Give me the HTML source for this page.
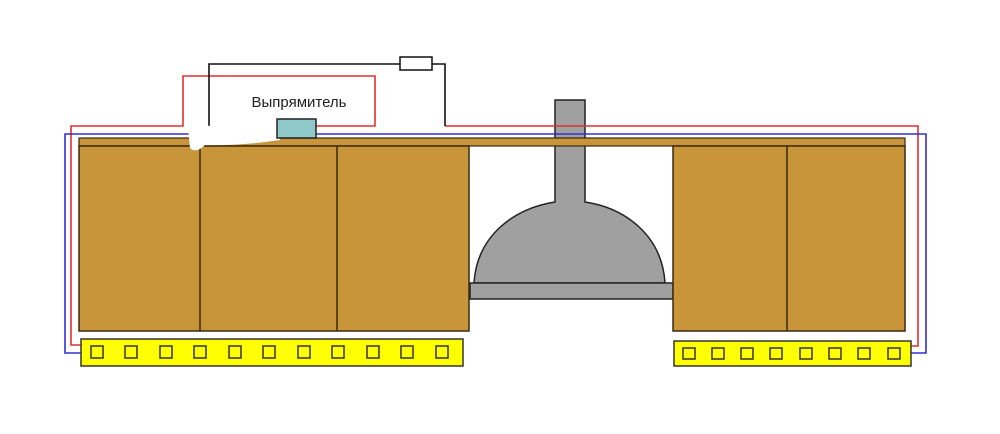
<!DOCTYPE html>
<html><head><meta charset="utf-8"><style>body{margin:0;background:#fff}svg{display:block}</style></head><body>
<svg width="1000" height="434" viewBox="0 0 1000 434" xmlns="http://www.w3.org/2000/svg">
<rect width="1000" height="434" fill="#fff"/>
<!-- hood -->
<path d="M555,100 H585 V202 C625,208 662,235 665,283 H474 C477,235 515,208 555,202 Z" fill="#a0a0a0" stroke="#222" stroke-width="1.5"/>
<rect x="470" y="283" width="203" height="16" fill="#a0a0a0" stroke="#222" stroke-width="1.5"/>
<!-- wires -->
<g fill="none" stroke-width="1.6">
<polyline points="81,345 71,345 71,126 183,126 183,76 375,76 375,126 316,126" stroke="#e03030"/>
<polyline points="445,126 918,126 918,346 910,346" stroke="#e03030"/>
<polyline points="81,353 65,353 65,134 190,134" stroke="#3030d0"/>
<polyline points="316,134 926,134 926,353 910,353" stroke="#3030d0"/>
<polyline points="192,134 209,134 209,64 400,64" stroke="#111"/>
<polyline points="432,64 445,64 445,126" stroke="#111"/>
</g>
<rect x="400" y="57" width="32" height="13" fill="#fff" stroke="#111" stroke-width="1.5"/>
<!-- counter -->
<rect x="79" y="138" width="826" height="8" fill="#c9953a" stroke="#3a2a10" stroke-width="1.2"/>
<rect x="79" y="146" width="390" height="185" fill="#c9953a" stroke="#3a2a10" stroke-width="1.5"/>
<line x1="200" y1="146" x2="200" y2="331" stroke="#3a2a10" stroke-width="1.5"/>
<line x1="337" y1="146" x2="337" y2="331" stroke="#3a2a10" stroke-width="1.5"/>
<rect x="673" y="146" width="232" height="185" fill="#c9953a" stroke="#3a2a10" stroke-width="1.5"/>
<line x1="787" y1="146" x2="787" y2="331" stroke="#3a2a10" stroke-width="1.5"/>
<!-- smudge -->
<path d="M188,128 Q230,122 280,128 L280,140 Q240,146 205,145 Q196,154 190,148 Z" fill="#fff"/>
<!-- rectifier -->
<rect x="277" y="119" width="39" height="19" fill="#8fc9c9" stroke="#222" stroke-width="1.5"/>
<text x="299" y="107" font-family="Liberation Sans, sans-serif" font-size="15" text-anchor="middle" fill="#222">Выпрямитель</text>
<!-- strips -->
<rect x="81" y="339" width="382" height="27" fill="#ffff00" stroke="#333" stroke-width="1.5"/>
<g fill="none" stroke="#333" stroke-width="1.5">
<rect x="91" y="346" width="12" height="12"/><rect x="125" y="346" width="12" height="12"/><rect x="160" y="346" width="12" height="12"/><rect x="194" y="346" width="12" height="12"/><rect x="229" y="346" width="12" height="12"/><rect x="263" y="346" width="12" height="12"/><rect x="298" y="346" width="12" height="12"/><rect x="332" y="346" width="12" height="12"/><rect x="367" y="346" width="12" height="12"/><rect x="401" y="346" width="12" height="12"/><rect x="436" y="346" width="12" height="12"/>
</g>
<rect x="674" y="341" width="237" height="25" fill="#ffff00" stroke="#333" stroke-width="1.5"/>
<g fill="none" stroke="#333" stroke-width="1.5">
<rect x="683" y="348" width="12" height="11"/><rect x="712" y="348" width="12" height="11"/><rect x="741" y="348" width="12" height="11"/><rect x="770" y="348" width="12" height="11"/><rect x="800" y="348" width="12" height="11"/><rect x="829" y="348" width="12" height="11"/><rect x="858" y="348" width="12" height="11"/><rect x="888" y="348" width="12" height="11"/>
</g>
</svg>
</body></html>
